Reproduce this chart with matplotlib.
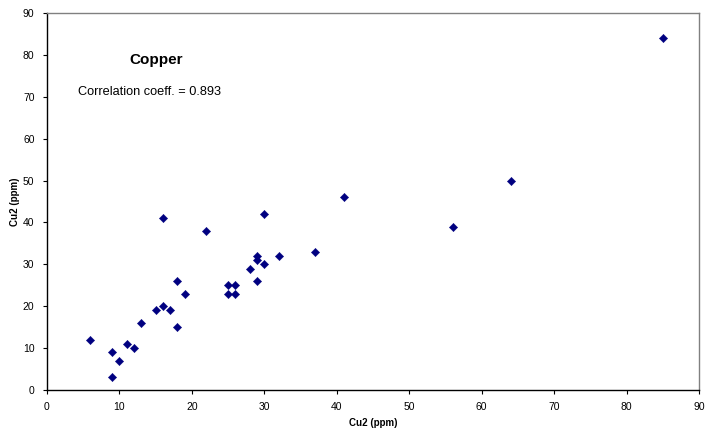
import matplotlib
matplotlib.use("Agg")
import matplotlib.pyplot as plt

plt.rcParams['font.family'] = ['Liberation Sans', 'DejaVu Sans']

# Copper duplicates: first vs second determination (ppm)
cu_first = [6, 9, 9, 10, 11, 12, 13, 15, 16, 16, 17, 18, 18, 19, 22,
            25, 26, 25, 26, 28, 29, 29, 29, 30, 30, 32, 37, 41, 56, 64, 85]
cu_second = [12, 9, 3, 7, 11, 10, 16, 19, 20, 41, 19, 26, 15, 23, 38,
             25, 25, 23, 23, 29, 32, 31, 26, 30, 42, 32, 33, 46, 39, 50, 84]

title_text = "Copper"
corr_text = "Correlation coeff. = 0.893"
axis_label = "Cu2 (ppm)"
ticks = list(range(0, 91, 10))

W, H = 722, 437
fig = plt.figure(figsize=(W / 100, H / 100), dpi=100)
ax = fig.add_axes([47 / W, 1 - 390 / H, (699 - 47) / W, (390 - 13) / H])

ax.scatter(cu_first, cu_second, marker='D', s=18, color='#000080',
           edgecolors='#000080', linewidths=0.3, zorder=3, clip_on=False)

ax.set_xlim(0, 90)
ax.set_ylim(0, 90)
ax.set_xticks(ticks)
ax.set_yticks(ticks)
ax.tick_params(direction='out', length=3, width=0.8, labelsize=7.5,
               pad=6, colors='black')

for side in ('left', 'bottom'):
    ax.spines[side].set_color('black')
    ax.spines[side].set_linewidth(1.0)
for side in ('top', 'right'):
    ax.spines[side].set_color('#808080')
    ax.spines[side].set_linewidth(1.0)

ax.set_xlabel(axis_label, fontsize=7, fontweight='bold', labelpad=4)
ax.set_ylabel(axis_label, fontsize=7, fontweight='bold', labelpad=2)

fig.text(156 / W, 1 - 60 / H, title_text, fontsize=11, fontweight='bold',
         ha='center', va='center')
fig.text(78 / W, 1 - 92 / H, corr_text, fontsize=9.2, ha='left',
         va='center')

fig.savefig("out.png", dpi=100)
